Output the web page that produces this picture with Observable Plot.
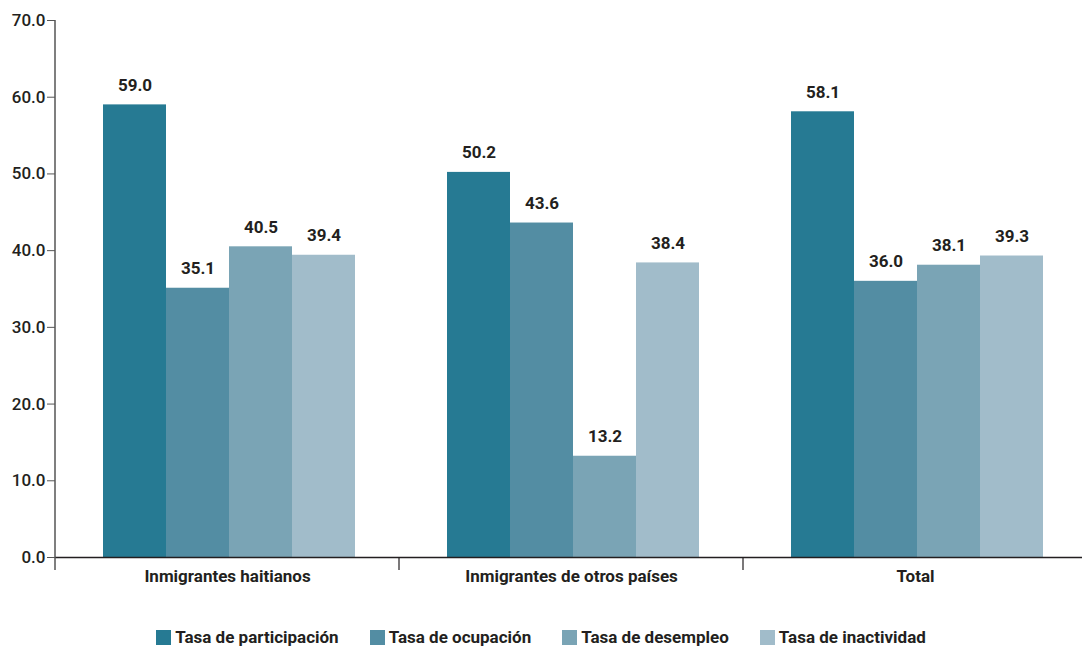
<!DOCTYPE html>
<html><head><meta charset="utf-8">
<script src="https://cdn.jsdelivr.net/npm/d3@7"></script>
<script src="https://cdn.jsdelivr.net/npm/@observablehq/plot@0.6"></script>
<style>
body{margin:0;background:#fff;font-family:Roboto,sans-serif;}
#chart svg{display:block;}
#legend{display:flex;justify-content:center;gap:31px;margin-top:3px;font-weight:700;font-size:17px;color:#231f20;line-height:19px;}
#legend .item{display:flex;align-items:center;gap:4px;}
#legend .sw{width:15px;height:15px;display:inline-block;}
</style></head><body><div id="chart"></div><div id="legend"></div><script>
const categories = ["Inmigrantes haitianos", "Inmigrantes de otros países", "Total"];
const seriesNames = ["Tasa de participación", "Tasa de ocupación", "Tasa de desempleo", "Tasa de inactividad"];
const participacion = [59.0, 50.2, 58.1];
const ocupacion = [35.1, 43.6, 36.0];
const desempleo = [40.5, 13.2, 38.1];
const inactividad = [39.4, 38.4, 39.3];
const colors = ["#267a93", "#538da3", "#7aa4b5", "#a1bcca"];
const yTicks = [0, 10, 20, 30, 40, 50, 60, 70];

const seriesValues = [participacion, ocupacion, desempleo, inactividad];
const data = categories.flatMap((c, i) => seriesNames.map((s, j) => ({category: c, series: s, value: seriesValues[j][i]})));

const plot = Plot.plot({
  width: 1082, height: 625,
  marginLeft: 55, marginRight: -5, marginTop: 20, marginBottom: 68,
  style: {fontFamily: "Roboto, sans-serif", fontSize: "15px", color: "#231f20", background: "#fff", overflow: "visible"},
  fx: {domain: categories, padding: 0, label: null},
  x: {domain: seriesNames, paddingInner: 0, paddingOuter: 0.7, align: 0.52, axis: null},
  y: {domain: [0, 70], axis: null},
  color: {domain: seriesNames, range: colors},
  marks: [
    Plot.barY(data, {fx: "category", x: "series", y: "value", fill: "series"}),
    Plot.text(data, {fx: "category", x: "series", y: "value", text: d => d.value.toFixed(1), lineAnchor: "bottom", dy: -14, fontWeight: 700, fontSize: 17, fill: "#231f20"}),
    Plot.ruleY([0], {stroke: "#231f20", strokeWidth: 1.5}),
    Plot.axisY({ticks: yTicks, tickFormat: d => d.toFixed(1), tickSize: 8, tickPadding: 2, fontSize: 17, fontWeight: 500, label: null, stroke: "#555", fill: "#231f20"}),
    Plot.axisFx({anchor: "bottom", tickSize: 0, tickPadding: 12, fontWeight: 700, fontSize: 17, label: null, fill: "#231f20"})
  ]
});
document.getElementById("chart").appendChild(plot);

// axis line and group separators from the library's scales
const fx = plot.scale("fx"), y = plot.scale("y");
const svg = d3.select(plot);
const y0 = y.apply(0), yTop = y.apply(70);
const edges = categories.map(c => fx.apply(c));
edges.push(fx.apply(categories[categories.length - 1]) + fx.bandwidth);
svg.append("line").attr("x1", edges[0]).attr("x2", edges[0]).attr("y1", yTop).attr("y2", y0 + 13)
  .attr("stroke", "#555").attr("stroke-width", 1.5);
edges.slice(1).forEach(x => svg.append("line").attr("x1", x).attr("x2", x).attr("y1", y0).attr("y2", y0 + 13)
  .attr("stroke", "#231f20").attr("stroke-width", 1.2));

const legend = d3.select("#legend");
seriesNames.forEach((s, i) => {
  const it = legend.append("div").attr("class", "item");
  it.append("span").attr("class", "sw").style("background", colors[i]);
  it.append("span").text(s);
});
</script></body></html>
